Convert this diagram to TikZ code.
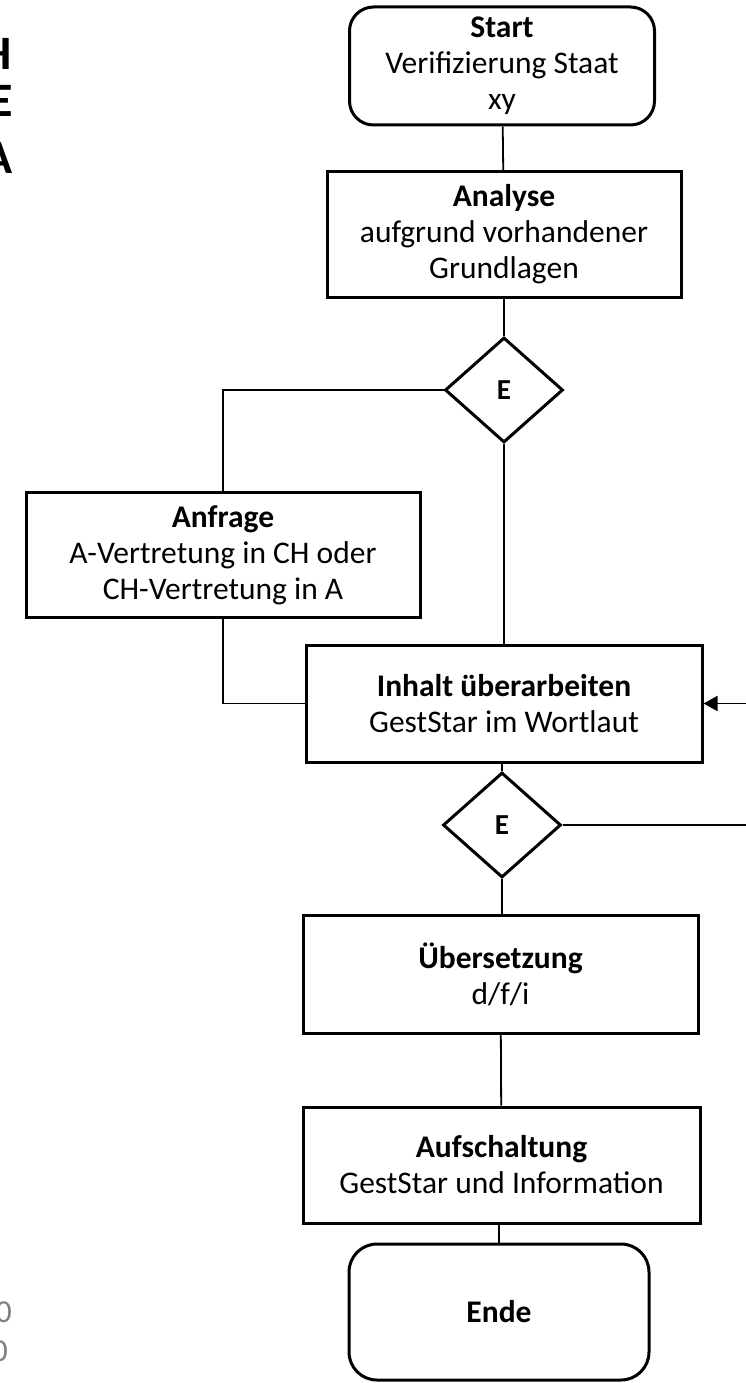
\documentclass[tikz,border=0pt]{standalone}
\usepackage{fontspec}
\setmainfont{Carlito}
\usetikzlibrary{shapes.geometric,arrows.meta}
\tikzset{
    box/.style = {draw, line width = 3pt, align = center, inner sep = 0pt,
        font = \fontsize{31.5}{36}\selectfont},
    term/.style = {box, rounded corners = 24pt},
    dec/.style = {draw, diamond, line width = 3pt, inner sep = 0pt,
        minimum width = 118pt, minimum height = 105pt,
        font = \fontsize{29}{34}\selectfont\bfseries},
    conn/.style = {line width = 1.8pt},
    cut/.style = {font = \fontsize{48}{48}\selectfont\bfseries, anchor = east, inner sep = 0pt}
}
\begin{document}
\begin{tikzpicture}[x = 1pt, y = 1pt]
    \useasboundingbox (0,0) rectangle (745,-1383);
    % Textreste am linken Rand
    \node[cut] (h1) at (12,-54) {H};
    \node[cut] (h2) at (13,-101) {E};
    \node[cut] (h3) at (13,-158) {A};
    \node[cut, font = \fontsize{32}{32}\selectfont, text = gray] (n1) at (12,-1312) {0};
    \node[cut, font = \fontsize{32}{32}\selectfont, text = gray] (n2) at (8,-1351) {0};
    % Ablauf
    \node[term, minimum width = 305pt, minimum height = 118pt] (start) at (502,-66)
        {\textbf{Start}\\Verifizierung Staat\\xy};
    \node[box, minimum width = 354pt, minimum height = 125pt] (analyse) at (504,-234.5)
        {\textbf{Analyse}\\aufgrund vorhandener\\Grundlagen};
    \node[dec] (e1) at (504,-390) {E};
    \node[box, minimum width = 394pt, minimum height = 125pt] (anfrage) at (223,-555)
        {\textbf{Anfrage}\\A-Vertretung in CH oder\\CH-Vertretung in A};
    \node[box, minimum width = 396pt, minimum height = 117pt] (inhalt) at (504,-703.5)
        {\textbf{Inhalt überarbeiten}\\GestStar im Wortlaut};
    \node[dec] (e2) at (502,-825) {E};
    \node[box, minimum width = 395pt, minimum height = 118pt] (uebers) at (500.5,-974)
        {\textbf{Übersetzung}\\d/f/i};
    \node[box, minimum width = 397pt, minimum height = 116pt] (aufsch) at (501.5,-1165)
        {\textbf{Aufschaltung}\\GestStar und Information};
    \node[term, rounded corners = 28pt, minimum width = 300pt, minimum height = 136pt] (ende) at (499,-1312)
        {\textbf{Ende}};
    \coordinate (rin) at (748,-703.5);
    \coordinate (rout) at (748,-825);
    \begin{scope}[style = conn]
        \draw (start) -- (analyse);
        \draw (analyse) -- (e1);
        \draw (e1.west) -| (anfrage.north);
        \draw (anfrage.south) |- (inhalt.west);
        \draw (e1.south) -- (inhalt.north -| e1.south);
        \draw[-{Triangle[length = 14pt, width = 15pt]}] (rin) -- (inhalt.east);
        \draw (inhalt.south -| e2.north) -- (e2.north);
        \draw (e2.east) -- (rout);
        \draw (e2.south) -- (uebers.north -| e2.south);
        \draw (uebers) -- (aufsch);
        \draw (aufsch.south -| ende.north) -- (ende);
    \end{scope}
\end{tikzpicture}
\end{document}
